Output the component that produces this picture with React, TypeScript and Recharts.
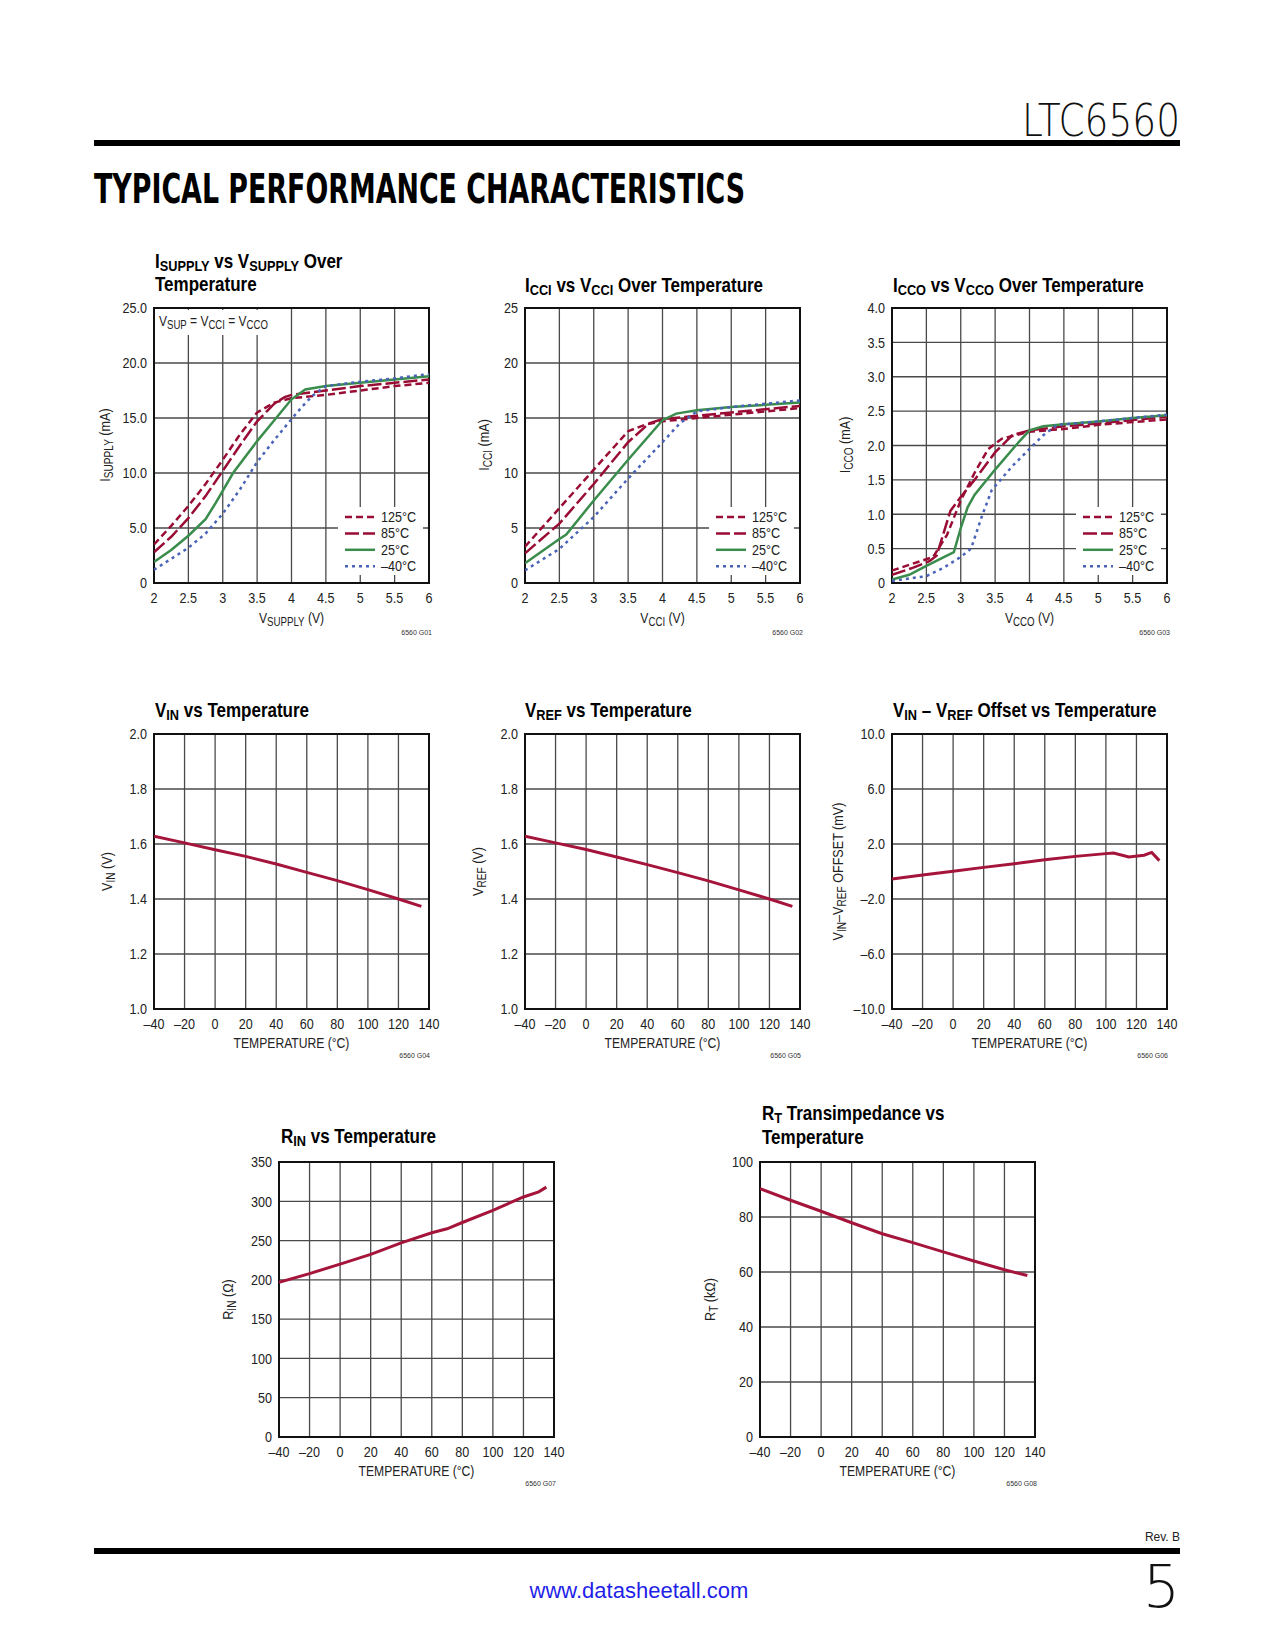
import React from 'react';
import { LineChart, Line, XAxis, YAxis, CartesianGrid, ReferenceArea, Legend } from 'recharts';

const FONT = '"Liberation Sans Narrow", "Liberation Sans", Arial, sans-serif';
const RED = '#a5143a';
const DRED = '#990d35';
const GREEN = '#3a8c4c';
const BLUE = '#4a63b8';
const SX = 0.84; // horizontal condensing of the sans font
const SXT = 0.85; // condensing for titles

type Pt = [number, number];

// ---------- Data ----------
const VOLT_TICKS = [2, 2.5, 3, 3.5, 4, 4.5, 5, 5.5, 6];
const TEMP_TICKS = [-40, -20, 0, 20, 40, 60, 80, 100, 120, 140];
const ISUP_TICKS = [0, 5, 10, 15, 20, 25];
const ICCI_TICKS = [0, 5, 10, 15, 20, 25];
const ICCO_TICKS = [0, 0.5, 1, 1.5, 2, 2.5, 3, 3.5, 4];
const VIN_TICKS = [1.0, 1.2, 1.4, 1.6, 1.8, 2.0];
const OFFSET_TICKS = [-10, -6, -2, 2, 6, 10];
const RIN_TICKS = [0, 50, 100, 150, 200, 250, 300, 350];
const RT_TICKS = [0, 20, 40, 60, 80, 100];

const LEGEND_NAMES = ['125°C', '85°C', '25°C', '–40°C'];

const isup125: Pt[] = [[2, 3.5], [2.25, 5.2], [2.5, 7.0], [2.75, 9.0], [3, 11.2], [3.25, 13.5], [3.5, 15.5], [3.75, 16.4], [4, 16.8], [4.5, 17.1], [5, 17.5], [5.5, 17.9], [6, 18.2]];
const isup85: Pt[] = [[2, 2.8], [2.25, 4.2], [2.5, 5.9], [2.75, 7.9], [3, 10.2], [3.25, 12.5], [3.5, 14.7], [3.75, 16.3], [3.9, 16.9], [4, 17.1], [4.5, 17.5], [5, 17.9], [5.5, 18.2], [6, 18.5]];
const isup25: Pt[] = [[2, 1.9], [2.25, 3.0], [2.5, 4.3], [2.75, 5.8], [2.9, 7.3], [3.15, 10.0], [3.5, 12.9], [3.75, 14.8], [4, 16.7], [4.2, 17.6], [4.5, 17.9], [5, 18.2], [5.5, 18.5], [6, 18.8]];
const isupM40: Pt[] = [[2, 1.2], [2.25, 2.2], [2.5, 3.2], [2.75, 4.5], [3, 6.3], [3.25, 8.5], [3.5, 11.0], [3.75, 13.0], [4, 14.9], [4.15, 16.0], [4.3, 17.0], [4.5, 17.9], [5, 18.3], [5.5, 18.6], [6, 19.0]];

const icci125: Pt[] = [[2, 3.3], [2.5, 6.8], [3, 10.3], [3.5, 13.8], [3.75, 14.4], [4, 14.7], [4.5, 15.0], [5, 15.3], [5.5, 15.6], [6, 15.9]];
const icci85: Pt[] = [[2, 2.7], [2.5, 5.4], [3, 9.0], [3.5, 12.8], [3.8, 14.5], [4, 14.9], [4.5, 15.2], [5, 15.5], [5.5, 15.8], [6, 16.1]];
const icci25: Pt[] = [[2, 1.8], [2.5, 4.0], [2.6, 4.4], [3, 7.5], [3.5, 11.2], [4, 14.8], [4.2, 15.4], [4.5, 15.7], [5, 16.0], [5.5, 16.2], [6, 16.4]];
const icciM40: Pt[] = [[2, 1.15], [2.5, 3.1], [3, 6.0], [3.5, 9.5], [4, 12.8], [4.25, 14.5], [4.5, 15.6], [5, 16.0], [5.5, 16.3], [6, 16.6]];

const icco125: Pt[] = [[2, 0.18], [2.3, 0.28], [2.6, 0.38], [2.8, 0.7], [3, 1.2], [3.2, 1.6], [3.4, 1.95], [3.6, 2.1], [3.8, 2.15], [4, 2.2], [4.5, 2.24], [5, 2.3], [5.5, 2.34], [6, 2.38]];
const icco85: Pt[] = [[2, 0.12], [2.3, 0.22], [2.55, 0.32], [2.65, 0.4], [2.85, 1.05], [3, 1.25], [3.2, 1.5], [3.5, 1.9], [3.75, 2.15], [4, 2.22], [4.5, 2.28], [5, 2.32], [5.5, 2.37], [6, 2.42]];
const icco25: Pt[] = [[2, 0.05], [2.25, 0.12], [2.5, 0.25], [2.9, 0.45], [3, 0.8], [3.1, 1.1], [3.2, 1.28], [3.5, 1.65], [3.8, 2.0], [4, 2.22], [4.2, 2.28], [4.5, 2.31], [5, 2.35], [5.5, 2.4], [6, 2.44]];
const iccoM40: Pt[] = [[2, 0.03], [2.5, 0.1], [2.75, 0.22], [3, 0.38], [3.15, 0.5], [3.3, 0.95], [3.45, 1.35], [3.75, 1.7], [4, 1.95], [4.2, 2.15], [4.4, 2.3], [4.5, 2.31], [5, 2.35], [5.5, 2.4], [6, 2.45]];

const tempC = [-40, -20, 0, 20, 40, 60, 80, 100, 120, 135];
const vinV = [1.628, 1.604, 1.579, 1.555, 1.527, 1.497, 1.467, 1.434, 1.400, 1.373];
const vrefV = [1.628, 1.604, 1.580, 1.553, 1.525, 1.496, 1.466, 1.433, 1.400, 1.373];

const offsetTemp = [-40, -20, 0, 20, 40, 60, 80, 100, 105, 115, 125, 130, 135];
const offsetMv = [-0.55, -0.25, 0.01, 0.30, 0.57, 0.86, 1.1, 1.3, 1.35, 1.05, 1.18, 1.39, 0.79];

const rinTemp = [-40, -20, 0, 20, 40, 60, 70, 80, 100, 120, 130, 135];
const rinOhm = [197, 208, 220, 232.5, 247, 260, 265, 273, 288.5, 305.5, 312, 318];

const rtTemp = [-40, -20, 0, 20, 40, 60, 80, 100, 120, 135];
const rtKohm = [90.3, 86.1, 82.1, 77.9, 73.9, 70.7, 67.3, 64.0, 60.8, 58.7];

// ---------- helpers ----------
const toXY = (pts: Pt[]) => pts.map(([x, y]) => ({ x, y }));
const zipXY = (xs: number[], ys: number[]) => xs.map((x, i) => ({ x, y: ys[i] }));
const fmtNum = (v: number) => String(v);
const fmt1 = (v: number) => (v === 0 ? '0' : v.toFixed(1));
const fmt1Always = (v: number) => (v < 0 ? '–' + Math.abs(v).toFixed(1) : v.toFixed(1));
const fmtTemp = (v: number) => (v < 0 ? '–' + Math.abs(v) : String(v));

type Series = { name: string; data: { x: number; y: number }[]; color: string; dash?: string; width: number };

const DASHES: Record<string, string | undefined> = {
  '125°C': '7 4',
  '85°C': '14 4',
  '25°C': undefined,
  '–40°C': '3 4',
};
const COLORS: Record<string, string> = {
  '125°C': DRED,
  '85°C': DRED,
  '25°C': GREEN,
  '–40°C': BLUE,
};

const tempSeries = (arrs: Pt[][]): Series[] =>
  arrs.map((a, i) => ({
    name: LEGEND_NAMES[i],
    data: toXY(a),
    color: COLORS[LEGEND_NAMES[i]],
    dash: DASHES[LEGEND_NAMES[i]],
    width: 2.5,
  }));

const PLOT = 275;
const YW = 50;
const MT = 10;
const MR = 24;
const XH = 30;

function LegendBox() {
  return (
    <svg width={85} height={68} style={{ display: 'block', background: '#fff' }}>
      {LEGEND_NAMES.map((name, i) => {
        const cy = 10 + i * 16.4;
        return (
          <g key={name}>
            <line x1={7} y1={cy} x2={37} y2={cy} stroke={COLORS[name]} strokeWidth={2.5} strokeDasharray={DASHES[name]} />
            <g transform={`translate(43 ${cy + 5}) scale(${SX} 1)`}>
              <text x={0} y={0} fontFamily={FONT} fontSize={15} fill="#222">{name}</text>
            </g>
          </g>
        );
      })}
    </svg>
  );
}

function ScaledTick(props: any) {
  const { x, y, payload, textAnchor, fmt, axis } = props;
  const label = fmt(payload.value);
  return (
    <g transform={`translate(${x} ${y}) scale(${SX} 1)`}>
      <text x={0} y={0} dy={axis === 'x' ? '0.71em' : '0.355em'} textAnchor={textAnchor} fontFamily={FONT} fontSize={15} fill="#222">
        {label}
      </text>
    </g>
  );
}

function Panel(p: {
  left: number; top: number;
  xDomain: [number, number]; xTicks: number[]; xFmt: (v: number) => string;
  yDomain: [number, number]; yTicks: number[]; yFmt: (v: number) => string;
  series: Series[]; legend?: boolean;
}) {
  const W = YW + PLOT + MR;
  const H = MT + PLOT + XH;
  return (
    <div style={{ position: 'absolute', left: p.left - YW, top: p.top - MT }}>
      <LineChart width={W} height={H} margin={{ top: MT, right: MR, bottom: 0, left: 0 }}>
        <CartesianGrid stroke="#4a4a4a" strokeWidth={1.3} />
        <XAxis
          type="number" dataKey="x" domain={p.xDomain} ticks={p.xTicks}
          allowDataOverflow interval={0} axisLine={false} tickLine={false} tickSize={6} tickMargin={3}
          height={XH} tick={(tp: any) => <ScaledTick {...tp} fmt={p.xFmt} axis="x" />}
        />
        <YAxis
          type="number" dataKey="y" domain={p.yDomain} ticks={p.yTicks}
          allowDataOverflow interval={0} axisLine={false} tickLine={false} tickSize={5} tickMargin={2}
          width={YW} tick={(tp: any) => <ScaledTick {...tp} fmt={p.yFmt} axis="y" />}
        />
        {p.series.map((s) => (
          <Line
            key={s.name} name={s.name} data={s.data} dataKey="y" type="linear" dot={false}
            stroke={s.color} strokeWidth={s.width} strokeDasharray={s.dash} isAnimationActive={false}
          />
        ))}
        <ReferenceArea x1={p.xDomain[0]} x2={p.xDomain[1]} y1={p.yDomain[0]} y2={p.yDomain[1]} fill="none" fillOpacity={0} stroke="#111" strokeWidth={2} />
        {p.legend && (
          <Legend
            layout="horizontal" verticalAlign="middle" align="center"
            wrapperStyle={{ left: 234, top: 209, width: 85, height: 68 }}
            content={() => <LegendBox />}
          />
        )}
      </LineChart>
    </div>
  );
}

type Part = string | [string];

function Rich(p: {
  x: number; y: number; parts: Part[]; size: number; sub: number; shift: number; sx: number;
  anchor?: 'start' | 'middle' | 'end'; weight?: number | string; rotate?: boolean; fill?: string;
}) {
  let cur = 0;
  const spans = p.parts.map((part, i) => {
    const isSub = typeof part !== 'string';
    const txt = isSub ? (part as [string])[0] : (part as string);
    const target = isSub ? p.shift : 0;
    const dy = target - cur;
    cur = target;
    return (
      <tspan key={i} dy={dy !== 0 ? dy : undefined} fontSize={isSub ? p.sub : p.size}>
        {txt}
      </tspan>
    );
  });
  const tf = p.rotate
    ? `translate(${p.x} ${p.y}) rotate(-90) scale(${p.sx} 1)`
    : `translate(${p.x} ${p.y}) scale(${p.sx} 1)`;
  return (
    <g transform={tf}>
      <text
        x={0} y={p.rotate ? 5 : 0} textAnchor={p.anchor || 'start'}
        fontFamily={FONT} fontWeight={p.weight || 400} fontSize={p.size} fill={p.fill || '#222'}
        style={{ whiteSpace: 'pre' }}
      >
        {spans}
      </text>
    </g>
  );
}

const Title = (x: number, y: number, parts: Part[]) => (
  <Rich x={x} y={y} parts={parts} size={20} sub={15} shift={3} sx={SXT} weight="bold" fill="#000" />
);
const YLab = (x: number, y: number, parts: Part[]) => (
  <Rich x={x} y={y} parts={parts} size={15} sub={12} shift={3} sx={SX} anchor="middle" rotate />
);
const XLab = (x: number, y: number, parts: Part[]) => (
  <Rich x={x} y={y} parts={parts} size={15} sub={12} shift={3} sx={0.81} anchor="middle" />
);
const FigId = (x: number, y: number, t: string) => (
  <text x={x} y={y} textAnchor="end" fontFamily={FONT} fontSize={7} fill="#333">{t}</text>
);

export default function App() {
  const single = (xs: number[], ys: number[], name: string): Series[] => [
    { name, data: zipXY(xs, ys), color: RED, width: 3 },
  ];
  return (
    <div style={{ position: 'absolute', left: 0, top: 0, width: 1275, height: 1650, background: '#fff', overflow: 'hidden' }}>
      <Panel left={154} top={308} xDomain={[2, 6]} xTicks={VOLT_TICKS} xFmt={fmtNum} yDomain={[0, 25]} yTicks={ISUP_TICKS} yFmt={fmt1}
        series={tempSeries([isup125, isup85, isup25, isupM40])} legend />
      <Panel left={525} top={308} xDomain={[2, 6]} xTicks={VOLT_TICKS} xFmt={fmtNum} yDomain={[0, 25]} yTicks={ICCI_TICKS} yFmt={fmtNum}
        series={tempSeries([icci125, icci85, icci25, icciM40])} legend />
      <Panel left={892} top={308} xDomain={[2, 6]} xTicks={VOLT_TICKS} xFmt={fmtNum} yDomain={[0, 4]} yTicks={ICCO_TICKS} yFmt={fmt1}
        series={tempSeries([icco125, icco85, icco25, iccoM40])} legend />

      <Panel left={154} top={734} xDomain={[-40, 140]} xTicks={TEMP_TICKS} xFmt={fmtTemp} yDomain={[1, 2]} yTicks={VIN_TICKS} yFmt={(v) => v.toFixed(1)}
        series={single(tempC, vinV, 'VIN')} />
      <Panel left={525} top={734} xDomain={[-40, 140]} xTicks={TEMP_TICKS} xFmt={fmtTemp} yDomain={[1, 2]} yTicks={VIN_TICKS} yFmt={(v) => v.toFixed(1)}
        series={single(tempC, vrefV, 'VREF')} />
      <Panel left={892} top={734} xDomain={[-40, 140]} xTicks={TEMP_TICKS} xFmt={fmtTemp} yDomain={[-10, 10]} yTicks={OFFSET_TICKS} yFmt={fmt1Always}
        series={single(offsetTemp, offsetMv, 'Offset')} />

      <Panel left={279} top={1162} xDomain={[-40, 140]} xTicks={TEMP_TICKS} xFmt={fmtTemp} yDomain={[0, 350]} yTicks={RIN_TICKS} yFmt={fmtNum}
        series={single(rinTemp, rinOhm, 'RIN')} />
      <Panel left={760} top={1162} xDomain={[-40, 140]} xTicks={TEMP_TICKS} xFmt={fmtTemp} yDomain={[0, 100]} yTicks={RT_TICKS} yFmt={fmtNum}
        series={single(rtTemp, rtKohm, 'RT')} />

      <svg width={1275} height={1650} style={{ position: 'absolute', left: 0, top: 0, pointerEvents: 'none' }}>
        {/* header */}
        <text x={1180} y={136} textAnchor="end" fontFamily='"DejaVu Sans", sans-serif' fontWeight={200} fontSize={44} textLength={158} lengthAdjust="spacingAndGlyphs" fill="#111">LTC6560</text>
        <rect x={94} y={140} width={1086} height={6} fill="#000" />
        <text x={94} y={203} fontFamily='"DejaVu Sans Condensed", "DejaVu Sans", sans-serif' fontWeight="bold" fontSize={40} textLength={651} lengthAdjust="spacingAndGlyphs" fill="#000">TYPICAL PERFORMANCE CHARACTERISTICS</text>

        {/* chart 1 */}
        {Title(155, 268, ['I', ['SUPPLY'], ' vs V', ['SUPPLY'], ' Over'])}
        {Title(155, 291, ['Temperature'])}
        {YLab(105, 445, ['I', ['SUPPLY'], ' (mA)'])}
        {XLab(291.5, 623, ['V', ['SUPPLY'], ' (V)'])}
        {FigId(432, 635, '6560 G01')}
        <rect x={156} y={310} width={118} height={25} fill="#fff" />
        <Rich x={159} y={326} parts={['V', ['SUP'], ' = V', ['CCI'], ' = V', ['CCO']]} size={15} sub={12} shift={3} sx={0.8} />

        {/* chart 2 */}
        {Title(525, 292, ['I', ['CCI'], ' vs V', ['CCI'], ' Over Temperature'])}
        {YLab(484, 445, ['I', ['CCI'], ' (mA)'])}
        {XLab(662.5, 623, ['V', ['CCI'], ' (V)'])}
        {FigId(803, 635, '6560 G02')}

        {/* chart 3 */}
        {Title(893, 292, ['I', ['CCO'], ' vs V', ['CCO'], ' Over Temperature'])}
        {YLab(845, 445, ['I', ['CCO'], ' (mA)'])}
        {XLab(1029.5, 623, ['V', ['CCO'], ' (V)'])}
        {FigId(1170, 635, '6560 G03')}

        {/* chart 4 */}
        {Title(155, 717, ['V', ['IN'], ' vs Temperature'])}
        {YLab(107, 871.5, ['V', ['IN'], ' (V)'])}
        {XLab(291.5, 1048, ['TEMPERATURE (°C)'])}
        {FigId(430, 1058, '6560 G04')}

        {/* chart 5 */}
        {Title(525, 717, ['V', ['REF'], ' vs Temperature'])}
        {YLab(478, 871.5, ['V', ['REF'], ' (V)'])}
        {XLab(662.5, 1048, ['TEMPERATURE (°C)'])}
        {FigId(801, 1058, '6560 G05')}

        {/* chart 6 */}
        {Title(893, 717, ['V', ['IN'], ' – V', ['REF'], ' Offset vs Temperature'])}
        {YLab(838, 871.5, ['V', ['IN'], '–V', ['REF'], ' OFFSET (mV)'])}
        {XLab(1029.5, 1048, ['TEMPERATURE (°C)'])}
        {FigId(1168, 1058, '6560 G06')}

        {/* chart 7 */}
        {Title(281, 1143, ['R', ['IN'], ' vs Temperature'])}
        {YLab(228, 1299.5, ['R', ['IN'], ' (Ω)'])}
        {XLab(416.5, 1476, ['TEMPERATURE (°C)'])}
        {FigId(556, 1486, '6560 G07')}

        {/* chart 8 */}
        {Title(762, 1120, ['R', ['T'], ' Transimpedance vs'])}
        {Title(762, 1144, ['Temperature'])}
        {YLab(710, 1299.5, ['R', ['T'], ' (kΩ)'])}
        {XLab(897.5, 1476, ['TEMPERATURE (°C)'])}
        {FigId(1037, 1486, '6560 G08')}

        {/* footer */}
        <text x={1180} y={1541} textAnchor="end" fontFamily={FONT} fontSize={12} fill="#222">Rev. B</text>
        <rect x={94} y={1548} width={1086} height={6} fill="#000" />
        <text x={639} y={1598} textAnchor="middle" fontFamily={FONT} fontSize={22} fill="#1f1fe8">www.datasheetall.com</text>
        <text x={1180} y={1607} textAnchor="end" fontFamily='"DejaVu Sans", sans-serif' fontWeight={200} fontSize={58} fill="#111">5</text>
      </svg>
    </div>
  );
}
